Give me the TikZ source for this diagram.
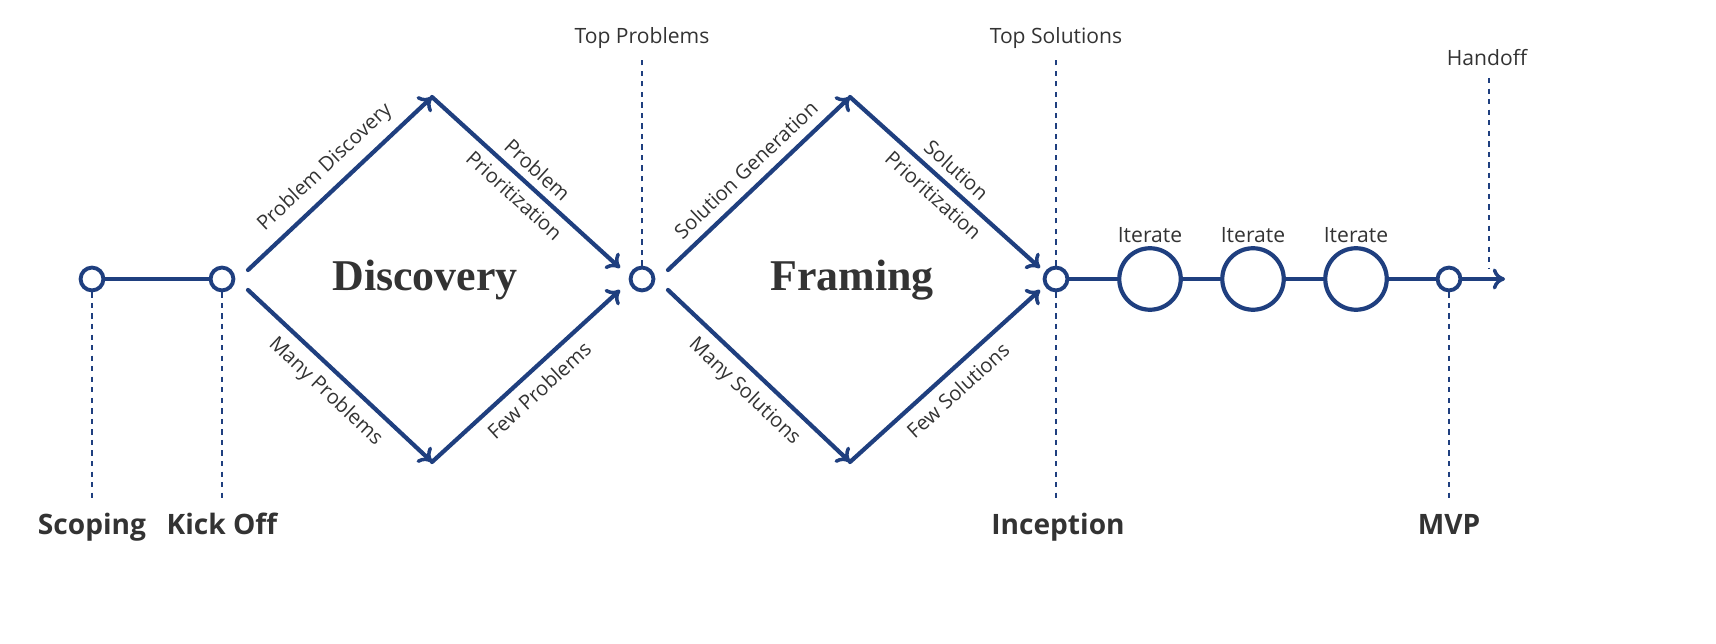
\documentclass[tikz,border=0pt]{standalone}
\usepackage{fontspec}
\setmainfont{Open Sans}
\newfontfamily\serifb{Liberation Serif}
\usetikzlibrary{arrows.meta}
\definecolor{navy}{HTML}{1F3F7F}
\definecolor{txt}{HTML}{333333}
\begin{document}
\begin{tikzpicture}[x=0.02cm,y=-0.02cm,
  ln/.style={navy,line width=2.4pt,line cap=round},
  arr/.style={ln,-{To[length=7pt,width=12pt,line width=2pt]}},
  dot/.style={circle,draw=navy,line width=2.2pt,fill=white,minimum size=13pt,inner sep=0pt},
  big/.style={circle,draw=navy,line width=2.4pt,fill=white,minimum size=35pt,inner sep=0pt},
  dsh/.style={navy,dashed,line width=0.6pt},
  lbl/.style={font=\fontsize{12}{14}\selectfont,text=txt},
  mile/.style={font=\fontsize{16}{18}\selectfont\bfseries,text=txt,anchor=base},
  big title/.style={font=\fontsize{25}{28}\selectfont\serifb\bfseries,text=txt},
  el/.style={font=\fontsize{11.5}{13.5}\selectfont,text=txt,sloped,align=center}]
\useasboundingbox (0,0) rectangle (1716,644);
\coordinate (s1) at (92,500); \coordinate (k1) at (222,500);
\coordinate (tp) at (642,55); \coordinate (ts) at (1056,55);
\coordinate (i1) at (1056,500); \coordinate (m1) at (1449,500);
\coordinate (h0) at (1489,78); \coordinate (h1) at (1489,268);
\node[dot] (s) at (92,279) {};
\node[dot] (k) at (222,279) {};
\node[dot] (c) at (642,279) {};
\node[dot] (f) at (1056,279) {};
\node[big] (b1) at (1150,279) {};
\node[big] (b2) at (1253,279) {};
\node[big] (b3) at (1356,279) {};
\node[dot] (m) at (1449,279) {};
\coordinate (end) at (1505,279);
\draw[dsh] (s) -- (s1); \draw[dsh] (k) -- (k1);
\draw[dsh] (c) -- (tp); \draw[dsh] (f) -- (ts); \draw[dsh] (f) -- (i1);
\draw[dsh] (m) -- (m1); \draw[dsh] (h0) -- (h1);
\draw[ln] (s) -- (k);
\draw[ln] (f) -- (b1) (b1) -- (b2) (b2) -- (b3) (b3) -- (m);
\draw[arr] (m) -- (end);
\coordinate (d1l) at (248,270); \coordinate (d1t) at (432,97);
\coordinate (d1r) at (620,268); \coordinate (d1lb) at (248,290);
\coordinate (d1b) at (432,462); \coordinate (d1rb) at (620,290);
\draw[arr] (d1l) -- node[el,above=2pt]{Problem Discovery} (d1t);
\draw[arr] (d1t) -- node[el]{Problem\\[6pt]Prioritization} (d1r);
\draw[arr] (d1lb) -- node[el,below=2pt]{Many Problems} (d1b);
\draw[arr] (d1b) -- node[el,below=2pt]{Few Problems} (d1rb);
\coordinate (d2l) at (668,270); \coordinate (d2t) at (850,97);
\coordinate (d2r) at (1040,268); \coordinate (d2lb) at (668,290);
\coordinate (d2b) at (850,462); \coordinate (d2rb) at (1040,290);
\draw[arr] (d2l) -- node[el,above=2pt]{Solution Generation} (d2t);
\draw[arr] (d2t) -- node[el]{Solution\\[6pt]Prioritization} (d2r);
\draw[arr] (d2lb) -- node[el,below=2pt]{Many Solutions} (d2b);
\draw[arr] (d2b) -- node[el,below=2pt]{Few Solutions} (d2rb);
\node[big title] (t1) at (425,280) {Discovery};
\node[big title] (t2) at (852,280) {Framing};
\node[lbl] (l1) at (642,38) {Top Problems};
\node[lbl] (l2) at (1056,38) {Top Solutions};
\node[lbl] (l3) at (1487,58) {Handoff};
\node[lbl] (it1) at (1150,235) {Iterate};
\node[lbl] (it2) at (1253,235) {Iterate};
\node[lbl] (it3) at (1356,235) {Iterate};
\node[mile] (n1) at (92,535) {Scoping};
\node[mile] (n2) at (222,535) {Kick Off};
\node[mile] (n3) at (1058,535) {Inception};
\node[mile] (n4) at (1449,535) {MVP};
\end{tikzpicture}
\end{document}
